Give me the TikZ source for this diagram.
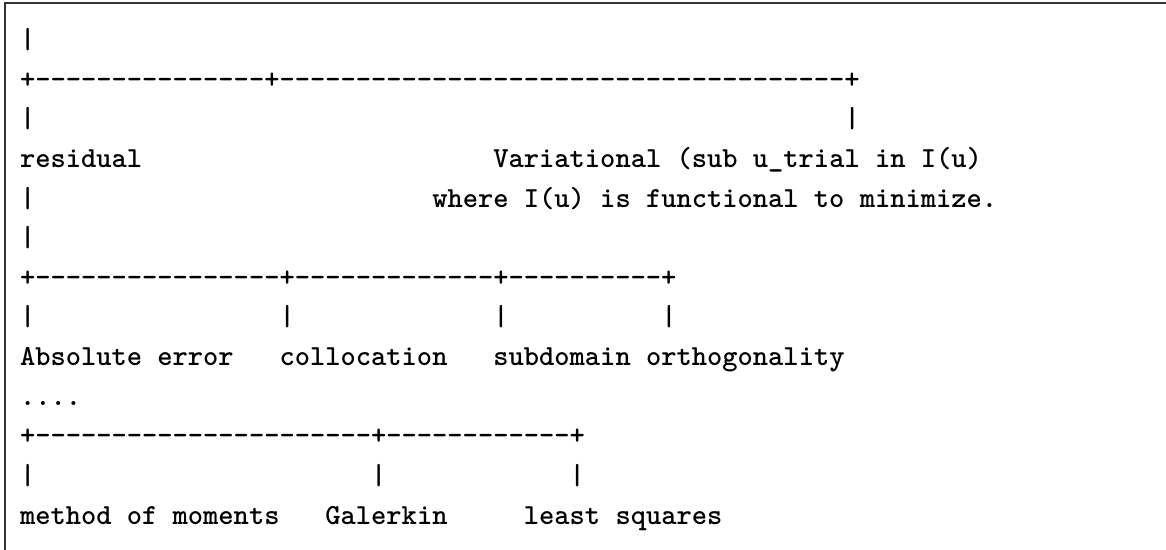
\documentclass[tikz,border=0pt]{standalone}
\newcount\repcnt
\newcommand\dsh[1]{\repcnt=#1\relax\loop\ifnum\repcnt>0 -\kern0pt\advance\repcnt-1\relax\repeat}
\tikzset{
  txt/.style={inner sep=0pt, outer sep=0pt, anchor=base west, text=black,
    font=\fontsize{14.54pt}{18pt}\selectfont\ttfamily\bfseries},
  frameline/.style={draw=black!80, line width=1pt}
}
\newcommand\asciiat[4]{\node[txt] (#1) at ({20+#2*15.27},{48.5+(#3-1)*39.64}) {#4};}
\begin{document}
\begin{tikzpicture}[x=0.5pt,y=-0.5pt]
\useasboundingbox (0,0) rectangle (1166,550);
\fill[white] (0,0) rectangle (1166,550);
\coordinate (fb) at (5,550);
\coordinate (fc) at (5,3.3);
\coordinate (fr) at (1166,3.3);
\draw[frameline] (fb) -- (fc) -- (fr);
% row 1
\asciiat{r1a}{0}{1}{|}
% row 2
\asciiat{r2a}{0}{2}{+\kern0pt\dsh{15}+\kern0pt\dsh{37}+}
% row 3
\asciiat{r3a}{0}{3}{|}
\asciiat{r3b}{54}{3}{|}
% row 4
\asciiat{residual}{0}{4}{residual}
\asciiat{variational}{31}{4}{Variational (sub u\_trial in I(u)}
% row 5
\asciiat{r5a}{0}{5}{|}
\asciiat{where}{27}{5}{where I(u) is functional to minimize.}
% row 6
\asciiat{r6a}{0}{6}{|}
% row 7
\asciiat{r7a}{0}{7}{+\kern0pt\dsh{16}+\kern0pt\dsh{13}+\kern0pt\dsh{10}+}
% row 8
\asciiat{r8a}{0}{8}{|}
\asciiat{r8b}{17}{8}{|}
\asciiat{r8c}{31}{8}{|}
\asciiat{r8d}{42}{8}{|}
% row 9
\asciiat{abserr}{0}{9}{Absolute error}
\asciiat{colloc}{17}{9}{collocation}
\asciiat{subdom}{31}{9}{subdomain}
\asciiat{ortho}{41}{9}{orthogonality}
% row 10
\asciiat{dots}{0}{10}{....}
% row 11
\asciiat{r11a}{0}{11}{+\kern0pt\dsh{22}+\kern0pt\dsh{12}+}
% row 12
\asciiat{r12a}{0}{12}{|}
\asciiat{r12b}{23}{12}{|}
\asciiat{r12c}{36}{12}{|}
% row 13
\asciiat{moments}{0}{13}{method of moments}
\asciiat{galerkin}{20}{13}{Galerkin}
\asciiat{lsq}{33}{13}{least squares}
\end{tikzpicture}
\end{document}
